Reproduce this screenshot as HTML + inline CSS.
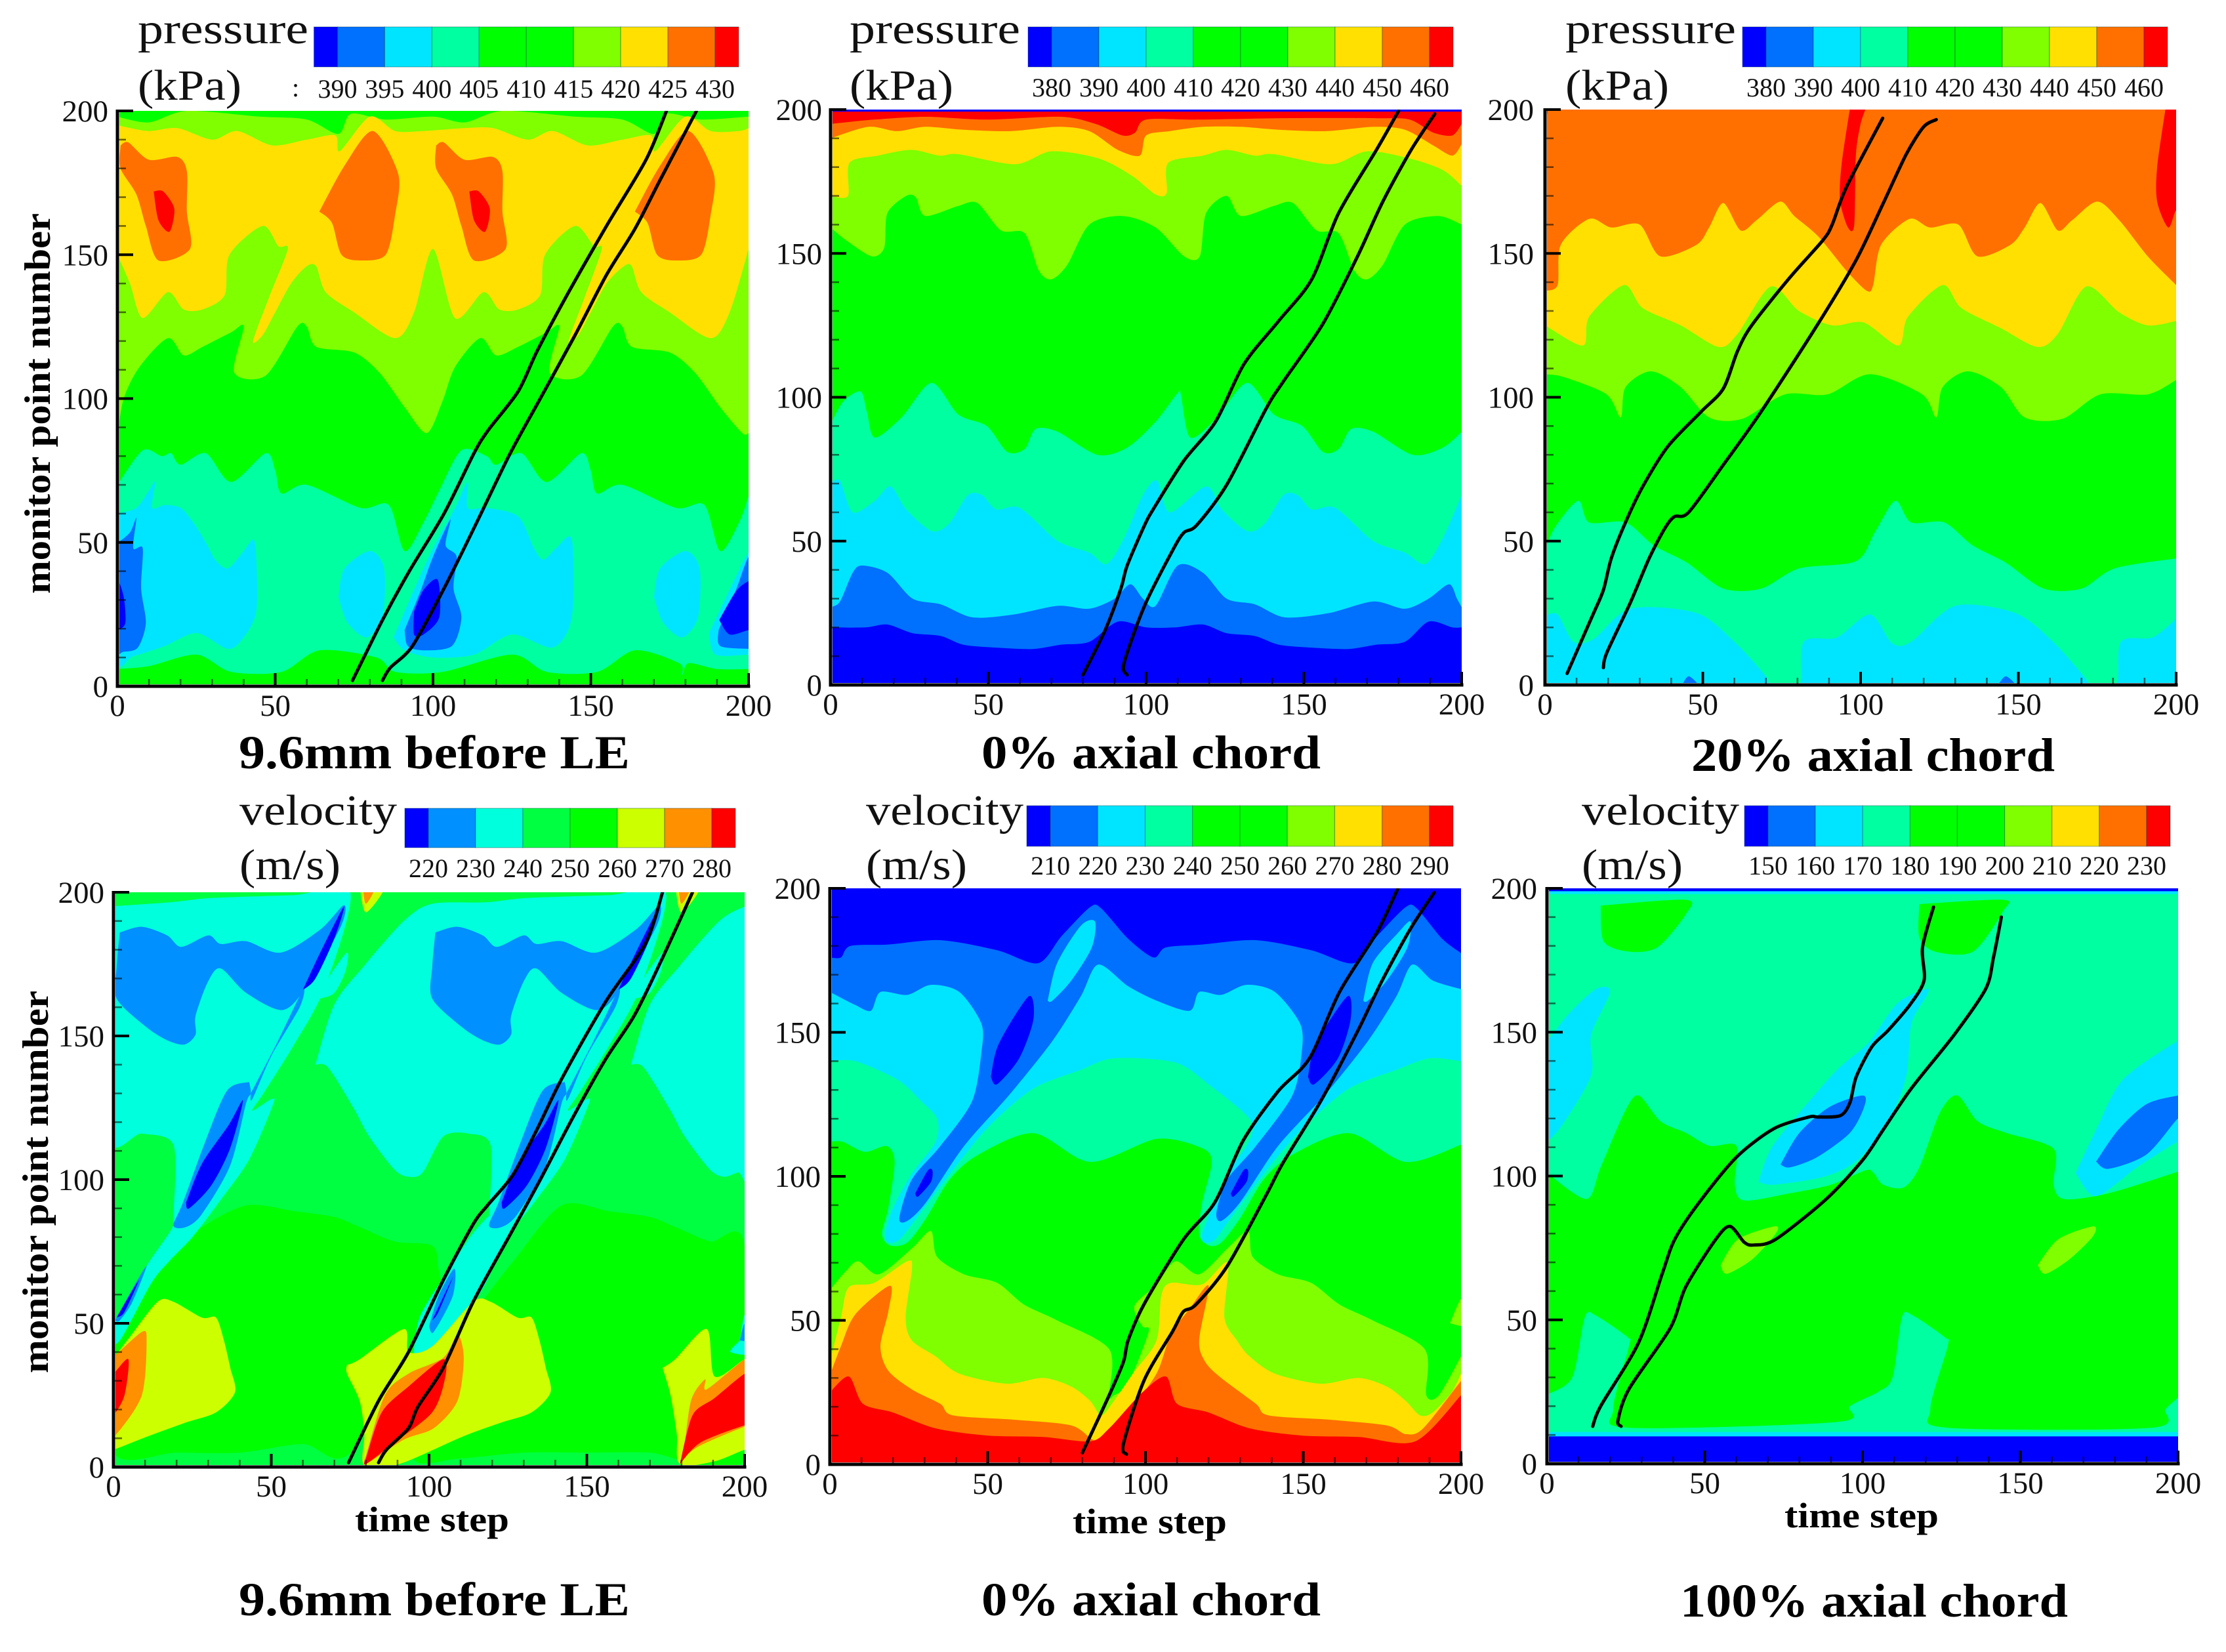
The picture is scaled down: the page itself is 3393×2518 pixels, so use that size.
<!DOCTYPE html>
<html lang="en">
<head>
<meta charset="utf-8">
<title>Pressure and velocity contour panels</title>
<style>
html,body{margin:0;padding:0;background:#fff;}
svg{display:block;}
text{font-family:"Liberation Serif",serif;fill:#111;}
.tick{font-size:47px;}
.cb{font-size:40px;}
.unit{font-size:66px;}
.title{font-size:72px;font-weight:bold;fill:#000;}
.xt{font-size:54px;font-weight:bold;fill:#000;}
.yt{font-size:56px;font-weight:bold;fill:#000;}
</style>
</head>
<body>
<svg id="chart" xmlns="http://www.w3.org/2000/svg" width="3393" height="2518" viewBox="0 0 3393 2518">
<rect x="0" y="0" width="3393" height="2518" fill="#fff"/>
<g id="p1"></g>
<g id="p2"></g>
<g id="p3"></g>
<g id="p4"></g>
<g id="p5"></g>
<g id="p6"></g>

<text class="unit" x="210" y="66" textLength="260" lengthAdjust="spacingAndGlyphs">pressure</text>
<text class="unit" x="210" y="152" textLength="158" lengthAdjust="spacingAndGlyphs">(kPa)</text>
<text class="cb" x="445" y="147">:</text>
<text class="unit" x="1295" y="66" textLength="260" lengthAdjust="spacingAndGlyphs">pressure</text>
<text class="unit" x="1295" y="152" textLength="158" lengthAdjust="spacingAndGlyphs">(kPa)</text>
<text class="unit" x="2386" y="66" textLength="260" lengthAdjust="spacingAndGlyphs">pressure</text>
<text class="unit" x="2386" y="152" textLength="158" lengthAdjust="spacingAndGlyphs">(kPa)</text>
<text class="unit" x="365" y="1257" textLength="240" lengthAdjust="spacingAndGlyphs">velocity</text>
<text class="unit" x="365" y="1340" textLength="154" lengthAdjust="spacingAndGlyphs">(m/s)</text>
<text class="unit" x="1320" y="1257" textLength="240" lengthAdjust="spacingAndGlyphs">velocity</text>
<text class="unit" x="1320" y="1340" textLength="154" lengthAdjust="spacingAndGlyphs">(m/s)</text>
<text class="unit" x="2411" y="1257" textLength="240" lengthAdjust="spacingAndGlyphs">velocity</text>
<text class="unit" x="2411" y="1340" textLength="154" lengthAdjust="spacingAndGlyphs">(m/s)</text>

<text class="title" x="364" y="1171" textLength="596" lengthAdjust="spacingAndGlyphs">9.6mm before LE</text>
<text class="title" x="1496" y="1171" textLength="517" lengthAdjust="spacingAndGlyphs">0% axial chord</text>
<text class="title" x="2578" y="1175" textLength="554" lengthAdjust="spacingAndGlyphs">20% axial chord</text>
<text class="title" x="364" y="2462" textLength="596" lengthAdjust="spacingAndGlyphs">9.6mm before LE</text>
<text class="title" x="1496" y="2462" textLength="517" lengthAdjust="spacingAndGlyphs">0% axial chord</text>
<text class="title" x="2561" y="2464" textLength="591" lengthAdjust="spacingAndGlyphs">100% axial chord</text>

<text class="xt" x="541" y="2334" textLength="235" lengthAdjust="spacingAndGlyphs">time step</text>
<text class="xt" x="1635" y="2337" textLength="235" lengthAdjust="spacingAndGlyphs">time step</text>
<text class="xt" x="2720" y="2328" textLength="235" lengthAdjust="spacingAndGlyphs">time step</text>

<text class="yt" transform="translate(76 905) rotate(-90)" textLength="580" lengthAdjust="spacingAndGlyphs">monitor point number</text>
<text class="yt" transform="translate(73 2093) rotate(-90)" textLength="583" lengthAdjust="spacingAndGlyphs">monitor point number</text>
</svg>

<script>
// ---------- shared axes data ----------
const majorTicks = [0,50,100,150,200];
const minorTicks = [10,20,30,40,60,70,80,90,110,120,130,140,160,170,180,190];

// ---------- colorbar data ----------
const pressureColors = ['#0000ff','#0070ff','#00e5ff','#00ffa0','#00ff00','#00ff00','#7fff00','#ffe000','#ff7000','#ff0000'];
const velocity1Colors = ['#0000ff','#0090ff','#00ffdc','#00ff40','#00ff00','#ccff00','#ff9000','#ff0000'];
const p1BarLabels = ['390','395','400','405','410','415','420','425','430'];
const p2BarLabels = ['380','390','400','410','420','430','440','450','460'];
const p3BarLabels = ['380','390','400','410','420','430','440','450','460'];
const p4BarLabels = ['220','230','240','250','260','270','280'];
const p5BarLabels = ['210','220','230','240','250','260','270','280','290'];
const p6BarLabels = ['150','160','170','180','190','200','210','220','230'];

// ---------- panel 1: pressure, 9.6mm before LE ----------
const p1SpringTop = [[0,70],[8,82],[14,80],[17,81],[20,77],[28,81],[36,71],[47,81],[50,75],[52,67],[60,70],[77,62],[86,63],[91,47],[97,57],[102,68],[109,82],[117,80],[120,77],[128,81],[136,71],[147,81],[150,75],[152,67],[160,70],[177,62],[186,63],[191,47],[197,57],[200,66]];
const p1SpringBottom = [[0,6],[10,7],[25,11],[36,5],[52,5],[64,12.5],[82,10],[88,5],[103,5],[125,11],[136,5],[152,5],[164,12.5],[178,8],[179,4],[181,8],[190,6],[200,6]];
const p1CyanA = [[0,60],[6,62],[10,68],[12,71],[11,62],[15,63],[20,62],[24,57],[28,50],[31,44],[35,41],[40,47],[43,51],[44,45],[44,26],[40,17],[35,13],[25,18.5],[15,14],[5,10.5],[0,10]];
const p1CyanB = [[70,31],[72,41],[80,47],[84.5,41],[84,24],[79,17],[73,22]];
const p1CyanC = [[87.5,17],[94,33.5],[100,48],[107,62],[111,71],[111,62],[117,62],[127,59],[132,48],[135,44],[139,48],[144,51],[144,24],[138,13.5],[125,18],[113,11],[100,10],[91,12.5]];
const p1CyanD = [[170,31],[172,41],[180,47],[184.5,41],[184,24],[179,17],[173,22]];
const p1CyanE = [[187.5,18.5],[194,33.5],[200,46.5],[203,46],[203,11],[200,11],[189.5,11]];
const p1MidA = [[-3,50],[0,50],[4,53.5],[6,58.5],[5,48],[8,48],[7.5,34],[9,22],[6.5,13.5],[2,12],[-3,12.5]];
const p1MidB = [[91,19.5],[96,33],[100,45],[105.5,58],[104,49],[107.5,45],[106.5,34],[109,24],[106,14],[97,12.5],[92,14]];
const p1MidC = [[190.5,19.5],[196,33.5],[200,45],[203,45],[203,13],[200,13],[191,14]];
const p1BlueA = [[-3,37],[0,37],[2,31],[2.5,22],[0,19.5],[-3,19.5]];
const p1BlueB = [[94,26],[97,33.5],[101.5,37],[102,24],[97,18],[94,18]];
const p1BlueC = [[190.7,23],[196,33],[200,36.5],[203,36.5],[203,19.5],[200,19.5],[194,18]];
const p1LimeBottom = [[0,87],[2,100],[7,111],[16,121],[21,115],[27,118],[36,123],[40,125],[37,109],[47,108],[57,125],[60,125],[63,118],[75,116],[83,109],[91,97],[98,88],[103,99],[107,111],[115,121],[120,115],[127,118],[136,123],[140,125],[137,109],[147,108],[157,125],[160,125],[163,118],[175,116],[183,109],[191,97],[198,88],[200,88]];
const p1LimeTop = [[0,198],[10,196],[22,200],[45,198],[60,197],[70,192],[74,199],[85,197],[100,198],[110,196],[122,200],[145,198],[160,197],[170,192],[174,199],[185,197],[200,198]];
const p1YellowTop = [[0,195],[9.7,193],[19,194],[30,190],[38,193],[49,188],[60,190],[69,191.5],[70.5,186],[80,198],[88,193],[97,193],[110,194],[119,194],[130,190],[138,193],[149,188],[160,190],[169,191.5],[170.5,186],[180,198],[188,193],[197,193],[200,194]];
const p1YellowBottom = [[0,150],[4,140],[8,128],[16,137],[21,131],[27,131],[34,136],[35.5,150],[46,160],[51,153],[54,152],[48,135],[43,120],[46,122],[50,130],[55,140],[60,146],[63,146],[66,137],[75,130],[88,121],[94,130],[100,152],[107,128],[116,137],[121,131],[127,131],[134,136],[135.5,150],[145,160],[151,153],[153.5,152],[148,135],[143,120],[146,122],[150,130],[155,140],[160.5,146],[163,146],[166,137],[175,130],[188,121],[194,130],[200,152]];
const p1OrangeA = [[1,188],[3.5,189],[10,183],[19,184],[22,179],[22,165],[23,152],[13,148],[9,160],[6,171],[1,180]];
const p1OrangeB = [[64,165],[72,181],[81,193],[89,178],[88,164],[85,150],[77,148],[71,150],[68,161]];
const p1OrangeC = [[101,188],[103.5,189],[110,183],[119,184],[122,179],[122,165],[123,152],[113,148],[109,160],[106,171],[101,180]];
const p1OrangeD = [[164,165],[172,181],[181,193],[189,178],[188,164],[185,150],[177,148],[171,150],[168,161]];
const p1RedA = [[11.5,172],[14.5,172],[18,166],[16.5,158],[13,162]];
const p1RedB = [[111.5,172],[114.5,172],[118,166],[116.5,158],[113,162]];
const p1LineA = [[74.5,2],[84,23],[92.5,40],[103.5,60],[113,81],[117.5,89],[127,102.5],[133,116.5],[142.5,136],[155,160],[167.5,183],[174,200]];
const p1LineB = [[84,2],[86.5,6.5],[93.5,14],[103.5,34],[113,55],[124.5,81],[134,100],[145,122],[155,143],[164,159],[172,176],[183.5,200]];

// ---------- panel 2: pressure, 0% axial chord ----------
const p2DarkTop = [[0,27],[3,29],[7,39],[10,41.5],[18,39],[26,30],[35,28],[45,23.5],[58,24.5],[72,27.5],[82,26.5],[90,30],[95,35],[99,30],[103,27.5],[110,41.5],[118,39],[125.5,30],[134.5,28],[144,23.5],[158,25],[172,29],[182,26.5],[189.5,30],[196,35],[198.5,30],[200,27]];
const p2BlueTop = [[0,20],[11,20],[18,21],[26,18],[35,17],[42,14],[52,13],[64,12.5],[73,14],[82,15],[91,22],[100,20],[109,20],[118,21],[125.5,18],[134.5,17],[142,14],[152,13],[164,12.5],[173,14],[182,15],[189.5,22],[197,20],[200,20]];
const p2CyanTop = [[0,70],[3,71],[7,60],[14,64],[19,69],[24,61],[32,53.5],[37.5,56],[43.5,66],[48,66],[52.5,61],[60,61.5],[72,50],[82,46],[87.5,42],[93,51],[99,66],[103.5,71],[107.5,60],[119,69],[124,61],[132,53.5],[137.5,56],[143.5,66],[148,66],[152.5,61],[160,61.5],[172,50],[182,46],[188.5,42],[194,51],[200,66]];
const p2SpringTop = [[0,90.5],[4,98.5],[9.5,102],[11.5,95],[14,86],[22.5,93],[32,105],[40.5,94],[49.5,90],[56,81],[61.5,82],[65,89],[72,88],[84.5,80],[94,82.5],[103,91.5],[110,101.5],[111,101],[114,86],[122.5,93],[132,105],[140.5,94],[149.5,90],[156,81],[161,82],[165,89],[172,88],[184.5,80],[194,82.5],[200,88]];
const p2GreenTop = [[0,159],[5,154.5],[13,149],[17,152],[18,164],[24,170],[27,169.5],[30,163],[40.5,166.5],[46.5,167.5],[54,158],[61.5,157],[66,144],[70,141],[75,146],[82,160],[92.5,163],[103,159],[112,149],[117,149],[119,164],[125.5,170],[130,163],[140.5,166.5],[146.5,167.5],[154,158],[161,157],[166,144],[170,141],[175,146],[182,160],[192.5,163],[200,160]];
const p2LimeTop = [[0,170],[5.5,170],[6,181.5],[15,184],[25.5,186],[34.5,184],[40.5,184.5],[58.5,181],[70,185.5],[85,183],[95.5,177],[103,170.5],[106.5,171],[107,181.5],[118,184],[125.5,186],[134.5,184],[140.5,184.5],[158.5,181],[170,185.5],[183.5,183],[194,179],[200,173.5]];
const p2YellowTop = [[0,190],[12,194],[21,192.5],[30,194],[42,193],[57,192.5],[72,194],[82,192.5],[91,186],[98,184],[100,191],[107.5,192.5],[118,194],[130,194],[142,193],[157,192.5],[172,194],[182,193],[191,187.5],[197,184],[200,188]];
const p2OrangeTop = [[0,195],[13.7,196.5],[30,197.5],[49.5,196.5],[73,197.5],[84,195],[92.5,191],[96.5,192],[100,196.5],[116.5,196.5],[142,197],[173,197],[183.5,196.5],[191,192],[197,191],[200,195]];
const p2RedTop = [[0,199.3],[100,199.3],[200,199.3]];
const p2LineA = [[80,3.5],[87,19],[92,33.5],[94,41.5],[99.5,55.5],[102.5,61.5],[112,78],[122,91.5],[131,111.5],[142,126.5],[152.5,141],[161,164],[173,186],[180,199.5]];
const p2LineB = [[94,3.5],[93,7.5],[99.5,27.5],[108.5,47],[112,53],[116,55.5],[125.5,69.5],[138,96],[143.5,105.5],[156,125.5],[167,149],[175,168],[184,186],[191.5,198.5]];

// ---------- panel 3: pressure, 20% axial chord ----------
const p3SpringTop = [[0,24],[4,24.5],[9,15],[15.5,16],[27,26.5],[48,25],[60,15],[70,3],[71.5,-1],[80.5,-1],[82,15],[92.5,16.5],[103,24.5],[110,14.5],[116,15],[130,27.5],[149,25],[161,15],[171.5,2],[173,-1],[181,-1],[182.5,15],[192.5,16.5],[200,23]];
const p3GreenTop = [[0,46.5],[3,54.5],[10.5,64],[14,56.5],[25.5,56.5],[34.5,48.5],[45,42.5],[56.5,33.5],[68.5,33.5],[80.5,40.5],[98.5,43],[104.5,53],[111,64],[116,56.5],[126.5,56.5],[135.5,48.5],[146,42.5],[158,33.5],[170,33.5],[180.5,40.5],[200,44]];
const p3LimeTop = [[0,108],[6,107],[19.5,101],[24,93],[25.5,103.5],[33.5,109],[43,103.5],[52,93],[62.5,92.5],[76,101],[89.5,101],[103,108],[119.5,101],[124,93],[126,103.5],[134,109],[144.5,103.5],[152,93],[164,92.5],[176,101],[191,101],[200,106]];
const p3YellowTop = [[0,125],[12,118],[14,128],[25,139],[31,131],[43,125],[55,117.5],[61,122],[71.5,138.5],[80.5,130],[91,125],[101,126],[112,118],[115,128],[126,139],[132,131],[144.5,124],[156,117.5],[162.5,122],[171.5,138.5],[182,129.5],[191,125],[200,126.5]];
const p3OrangeTop = [[0,137],[4,139],[5,153],[14,162],[21,159],[30,160],[36.5,149],[48,153],[52,159],[56.5,167.5],[62,158],[67,161.5],[74.5,168],[79,163],[86.5,156],[95.5,144],[102,137],[104,139],[106.5,153],[115.5,162],[122,159],[131,160],[137,149],[147.5,153],[152,159],[157,167.5],[162.5,158],[167,161.5],[175,168],[182,161.5],[191,149],[200,139]];
const p3RedA = [[97,203],[102,203],[100,195],[98.5,184],[98,160],[96,159],[93.5,168.5],[94,181]];
const p3RedB = [[197,203],[203,203],[203,165],[200,165],[197.5,159],[194,168],[194,180]];
const p3RedC = [[0,201],[1,201],[0,195]];
const p3MidA = [[43,-1],[45.5,3],[49,-1]];
const p3MidB = [[143,-1],[146,3],[149.5,-1]];
const p3LineA = [[7,4],[15,24],[18.5,33],[21,44],[25.5,56.5],[31,69],[39,83],[49.5,95],[56.5,103],[61,116],[65.5,125],[77.5,141.5],[88,154.5],[91,160],[95.5,173],[107,197]];
const p3LineB = [[18.5,6],[19.5,11],[27,28.5],[33,44],[38,54.5],[41,58.5],[45.5,60],[56.5,76.5],[68.5,95],[86.5,125.5],[98.5,147.5],[107,167],[114.5,184.5],[120,194],[124,196.5]];

// ---------- panel 4: velocity, 9.6mm before LE ----------
const p4GreenA = [[0,45],[8,60],[14,70],[26,82],[42,91],[57.5,89],[70,87],[78,83.5],[89,78.5],[101,77],[103,69],[104,60],[100,50],[75,5],[60,8],[40,5],[20,5],[0,5]];
const p4GreenB = [[115,55],[127,72],[142,91],[157,89],[170,87],[178,83.5],[189,78.5],[200,77],[200,3],[170,5],[150,5],[130,5],[110,3],[95,3],[100,30]];
const p4AquaA = [[-2,195],[18,196.5],[31,198],[57,199],[75,200],[67,167],[57.5,147.5],[47.5,130],[44,124],[50,128],[50.5,126],[43,107],[34,93],[25,80],[18,72],[12,64],[2,44],[-2,44],[0,50],[10.5,70],[18.5,83],[19,88],[19,112],[9,116],[-2,116]];
const p4AquaB = [[64,140],[70,161],[79.5,174.5],[92,190],[101,196],[118,196.5],[131,198],[157,199],[175,200],[167,167],[157.5,147.5],[147.5,130],[144,124],[150,128],[150.5,126],[143,107],[134,93],[125,80],[118,64],[112,54],[104,44],[95,38],[95,39],[97,52],[104,65],[113,80],[118.5,87],[119,88],[119.5,112],[112.5,116],[104.5,115],[98,102.5],[93.5,101],[89,103.5],[81,115],[76,125],[68,139]];
const p4AquaC = [[164,140],[170,161],[179.5,174.5],[192,190],[200,195],[203,195],[203,103],[198,102.5],[193.5,101],[189,103.5],[181,115],[176,125],[168,139]];
const p4AquaD = [[198.5,44],[200,53],[203,53],[203,40],[195.5,40]];
const p4LensA = [[65.5,163],[68,170],[74,179],[73.5,172.5],[70,165]];
const p4LensB = [[165.5,163],[168,170],[174,179],[173.5,172.5],[170,165]];
const p4MidA = [[2,186],[9,188],[17,185],[21.5,181],[30,185],[34,182],[42,183],[53,179],[65.5,187],[73,195.5],[72,188],[61,167],[53.5,159],[42,165],[34,173.5],[30,169],[26,157],[26,150.5],[22.5,147],[17,148.5],[10.5,153],[1,163],[1,174]];
const p4MidB = [[43,134],[36,131],[29,113],[22,92],[19,84],[23,83.5],[28,88],[37,105],[42,126.5],[43.5,130]];
const p4StripA = [[43.5,130],[52,148],[60,166],[59,160],[50,143],[44,128]];
const p4MidC = [[0.5,51],[6,62],[10.5,70],[6,57.5],[2,51]];
const p4MidD = [[102,186],[109,188],[117,185],[121.5,181],[130,185],[134,182],[142,183],[153,179],[165.5,187],[173,195.5],[172,188],[161,167],[153.5,159],[142,165],[134,173.5],[130,169],[126,157],[126,150.5],[122.5,147],[117,148.5],[110.5,153],[101,163],[101,174]];
const p4MidE = [[143,134],[136,131],[129,113],[122,92],[119,84],[123,83.5],[128,88],[137,105],[142,126.5],[143.5,130]];
const p4StripB = [[143.5,130],[152,148],[160,166],[159,160],[150,143],[144,128]];
const p4MidF = [[100,49],[103,59.5],[108,69],[107.5,59.5],[101.5,47]];
const p4MidG = [[198.5,44],[200,50],[203,50],[203,44]];
const p4BlueA = [[60,166],[65.5,179],[73,195],[70,184],[64,170]];
const p4BlueB = [[23,92],[28,105.5],[36.5,119],[41,127.5],[37,111],[31,98],[24,90]];
const p4BlueC = [[1,52],[8,65],[3.5,54]];
const p4BlueD = [[160,166],[165.5,179],[173,195],[170,184],[164,170]];
const p4BlueE = [[123,92],[128,105.5],[136.5,119],[141,127.5],[137,111],[131,98],[124,90]];
const p4BlueF = [[101,51],[107.5,66],[103,54]];
const p4HighA = [[-2,38],[0,38],[5,45],[14,57.5],[19,57.5],[28,52],[32.5,52],[35,44],[37,34.5],[38.5,26],[32.5,19],[23,15.5],[10.5,10.5],[0,6],[-2,6]];
const p4HighB = [[74,35.5],[78,37.5],[92,48],[93.5,40],[101,42],[114,57.5],[119.5,57.5],[128,52],[132.5,52],[135,44],[137,34.5],[138.5,26],[132.5,19],[123,15.5],[110.5,10.5],[90.5,1],[79.5,0.5],[79.5,11.5],[78,23],[74,32.5]];
const p4HighC = [[174,34.5],[178,37.5],[188,48],[190.5,31.5],[200,37.5],[203,37.5],[203,6],[200,6],[190.5,2],[179.5,1],[178.5,11.5],[176.5,25]];
const p4OrangeA = [[-2,38.5],[0,38.5],[9,47],[10.5,44],[9,25],[1,11.5],[-2,10.5]];
const p4OrangeB = [[80,4],[86,25],[93.5,32.5],[104.5,38],[109,46],[111,38],[109,23],[101.5,13.5],[92,9.5],[80,1]];
const p4OrangeC = [[180.5,3],[183,23],[187.5,30.5],[188,27],[200,37.5],[203,37.5],[203,14],[200,14],[186,7.5]];
const p4RedA = [[-2,32.5],[0,32.5],[4.7,37.5],[3.5,25],[0,18],[-2,18]];
const p4RedB = [[80,3],[85,19],[93.5,28],[104.5,37.5],[105,30.5],[101,19],[89,8.5],[80,1]];
const p4RedC = [[179.5,1],[183.5,18],[190.5,24],[200,32.5],[203,32.5],[203,14.5],[200,14.5],[186,8.5]];
const p4TipHighA = [[78,202],[86,202],[80,193]];
const p4TipOrangeA = [[79,202],[83,202],[80,196]];
const p4TipHighB = [[178,202],[186,202],[180,193]];
const p4TipOrangeB = [[179,202],[183,202],[180,196]];
const p4LineA = [[74.5,1.5],[84,23],[93.5,40],[104.5,65],[114,84.5],[118.5,91],[126.5,101.5],[134,117],[142,135],[156,162],[168.5,182],[174,200]];
const p4LineB = [[84,1.5],[86.5,6],[93.5,13.5],[96.5,21],[104.5,34.5],[114,57.5],[125.5,80.5],[135,99.5],[146,122.5],[156,142],[165,157],[173.5,176],[183.5,200]];

// ---------- panel 5: velocity, 0% axial chord ----------
const p5SpringTop = [[0,112],[4,112],[11,108.5],[18,110.5],[20.5,105],[18.5,89],[16.5,80],[19,76],[24.5,77],[30.5,85.5],[38,99],[47,107.5],[64.5,115],[82.5,105],[103.5,113],[117.5,110],[121,105],[118,91],[117,80],[120,76],[124,77],[130,85.5],[137.5,99],[146.5,107.5],[164.5,115],[182.5,105],[200,111]];
const p5CyanTop = [[0,140],[8,140],[21.5,133.5],[29,126],[34,120],[33.5,112],[26,101],[20,89],[17.5,80],[18.5,77],[22,78],[27.5,85.5],[41,105],[51,118],[64.5,130.5],[79.5,137],[90,141],[109.5,139.5],[120.5,131.5],[133,120],[133,112.5],[126,101],[120.5,87.5],[118,80],[118.5,77],[122,78],[127,85.5],[140.5,105],[151,118],[164.5,130.5],[179.5,137],[190,141],[200,140]];
const p5DarkTop = [[0,164],[8,159.5],[13,157.5],[16,164],[24.5,163],[32,166.5],[41,164],[48,153],[48,143],[45,126],[35,110.5],[26,99],[22,85.5],[24.5,84.5],[30.5,91],[42.5,110.5],[57,128.5],[70.5,147],[79.5,162.5],[85,173.5],[94.5,166],[103.5,161],[114,157.5],[117,164],[124,163],[132,166.5],[141,164],[149,153],[149.5,143],[146.5,128],[135,110.5],[126,99],[122.5,87.5],[124,84.5],[130,91],[142,110.5],[157,128.5],[170.5,147],[179.5,162.5],[184.5,173.5],[191,168],[200,165]];
const p5BlueTop = [[0,176],[3.5,176],[6.5,180],[18.5,180.5],[35,182],[53,178.5],[66,174],[73.5,183.5],[82.5,193.5],[86,193],[94.5,182.5],[102.5,176],[106.5,179.5],[118,180.5],[135,182],[152.5,178.5],[166,174],[173.5,183.5],[182.5,193.5],[186,193],[194,182.5],[200,177.5]];
const p5LensA = [[69,161],[72,174],[79.5,187],[84,188.5],[83,179.5],[76.5,168],[70.5,161]];
const p5LensB = [[169,161],[172,174],[180,184.5],[184,188.5],[183,179.5],[176.5,168],[170.5,161]];
const p5DeepA = [[51,134.5],[53.5,146],[63,162.5],[64.5,154.5],[60,141],[53,132]];
const p5DeepB = [[151.5,134.5],[154,146],[164,162.5],[165,154.5],[161,141],[153.5,132]];
const p5DeepC = [[27,94],[31,102],[32.5,102],[32,98],[28,93]];
const p5DeepD = [[127,94],[131,102],[132.5,102],[132,98],[128,93]];
const p5LimeTop = [[0,60.5],[5,67],[9,70.5],[15.5,66],[26,75],[32,81],[34,72],[42.5,66],[53,63],[61.5,55.5],[72,50],[88.5,40],[88.5,24],[90,24],[94.5,28],[101,46],[99,48],[96.5,55],[103.5,62.5],[109.5,70.5],[117,66],[126,75],[132.5,81],[134,72],[142,66],[152.5,63],[161.5,55.5],[172,50],[188.5,40],[189,24],[193,24],[200,37.5]];
const p5LimeSpot = [[196.5,49],[200,57.5],[203,57.5],[203,48],[200,48]];
const p5YellowTop = [[0,35.5],[3.5,51],[6,61.5],[14,63],[24.5,70.5],[26,68],[24,51],[26,43],[33.5,37.5],[41,31.5],[56,28],[67.5,30],[76.5,27],[82.5,22],[86,17],[90,22],[96,31.5],[103.5,43],[105,58.5],[108,63],[118,62.5],[126,70],[125,51],[129,43],[133,37.5],[141,31.5],[155.5,28],[167.5,30],[176.5,27],[182.5,22],[187,17],[191,18],[197,25],[200,31.5]];
const p5OrangeTop = [[0,31],[3.5,41],[8,52],[19,62],[18.5,53],[16,41],[18.5,32.5],[26,26],[35,21],[39,17],[58.5,15.5],[76.5,13.5],[83.5,8.5],[88.5,9.5],[94.5,18],[103.5,31.5],[108,45],[114,54],[120,62],[117,43],[119,35.5],[124,30],[135,21],[139,17],[158.5,15.5],[176.5,13.5],[182.5,10.5],[188,12.5],[200,29]];
const p5RedTop = [[0,25],[6,30.5],[10.5,21],[20,18],[33.5,12.5],[50,10],[67.5,9.5],[82.5,8],[88.5,12.5],[99,25],[106.5,30.5],[110,21],[120,18],[133,12.5],[149.5,10],[167.5,9.5],[185.5,8],[200,24]];
const p5LineA = [[80,4],[88.5,24],[93,35.5],[94.5,43],[99.5,55.5],[112,78],[122,91],[131,112.5],[142,129.5],[152,141],[161.5,164],[173.5,185],[180,200]];
const p5LineB = [[94,3.5],[93,7],[99.5,29],[108.5,46],[112,53],[116,55.5],[126,69],[138.5,94],[143.5,104.5],[156,127],[167.5,151],[175,168],[184,186],[191.5,198.5]];

// ---------- panel 6: velocity, 100% axial chord ----------
const p6GreenUpper = [[0,101],[12.5,92],[17,103],[24.5,122],[29,128],[36,119],[44,115],[51.5,110.5],[60,110.5],[59.5,97],[62.5,91.5],[77,94],[90,97],[101,102],[103.5,101],[106.5,97],[113,96],[118,103],[124.5,122],[130,128],[136.5,119],[145.5,115],[160.5,109.5],[160.5,97],[164,92],[178,94],[200,101.5]];
const p6GreenLower = [[0,24],[8,30],[12,51],[15.5,51.5],[25.5,44],[26,41],[21,19],[26,12.5],[92,14.5],[96,20],[105,25],[109.5,30],[112.5,51],[116,51.5],[126,44],[127,41],[121.5,19],[127,12.5],[191.5,12.5],[196,19],[200,23]];
const p6TopA = [[17,194],[44,196],[44,191],[35,179.5],[26,178],[18,181.5]];
const p6TopB = [[118,194.5],[144.5,196],[144.5,192],[135,178],[123,178],[118,183]];
const p6CyanA = [[-3,112],[0,112],[5,118],[14,135],[14,149],[20,164],[15.5,165],[7,156.5],[0,147],[-3,147]];
const p6CyanB = [[67,98],[71,109.5],[80,122],[92,137],[102,146.5],[111,160],[120,165],[120.5,163],[115.5,153],[114,135.5],[109.5,122],[99.5,106.5],[88.5,100],[72,97]];
const p6CyanC = [[167.5,101],[174,116],[182.5,133.5],[200,147],[203,147],[203,112],[200,112],[187,103],[174,93]];
const p6DarkA = [[74,104],[80,115],[89.5,124],[100,128],[100.5,124],[96,115],[85.5,106.5],[77,103]];
const p6DarkB = [[174,105],[181,116],[190,125],[200,128],[203,128],[203,120],[200,120],[190,107.5],[178,102.5]];
const p6LimeA = [[55,69],[60.5,78],[72,82.5],[72.5,80],[65,71],[57,66]];
const p6LimeB = [[155.5,69],[162,78],[173,82.5],[173,79],[165.5,71],[158,66]];
const p6LineA = [[14.5,13],[17,20],[29,42],[36.5,66],[40.5,78],[48,90.5],[60,106.5],[72,116.5],[83,120.5],[86,120.5],[93,121],[96,125.5],[98,134.5],[103,145],[108,150.5],[115,159.5],[119.5,168],[119,179.5],[122.5,193.5]];
const p6LineB = [[23.5,13],[22.5,15],[26,26],[39,47],[44,61.5],[53.5,78],[58,82.5],[62.5,77],[65.5,76],[72.5,78],[88.5,92],[100,105.5],[106.5,116],[115.5,130.5],[129,149],[139,165],[141.5,176],[144,190]];

// ---------- rendering helpers ----------
const NS = 'http://www.w3.org/2000/svg';
const C = {blue:'#0000ff',dark:'#0070ff',cyan:'#00e5ff',spring:'#00ffa0',green:'#00ff00',lime:'#7fff00',yellow:'#ffe000',orange:'#ff7000',red:'#ff0000',
           vMid:'#0090ff',vAqua:'#00ffdc',vLight:'#00ff40',vHigh:'#ccff00',vOrange:'#ff9000'};

function makeAxes(x0,x1,y0,y1){
  return {x0,x1,y0,y1,
    sx:t=>x0+(x1-x0)*t/200,
    sy:v=>y0+(y1-y0)*v/200};
}
function smooth(pts,ax,move){
  let d = (move?'M':'L')+ax.sx(pts[0][0]).toFixed(1)+' '+ax.sy(pts[0][1]).toFixed(1);
  for(let i=0;i<pts.length-1;i++){
    const a=pts[Math.max(i-1,0)],b=pts[i],c=pts[i+1],e=pts[Math.min(i+2,pts.length-1)];
    const c1x=ax.sx(b[0])+(ax.sx(c[0])-ax.sx(a[0]))/7, c1y=ax.sy(b[1])+(ax.sy(c[1])-ax.sy(a[1]))/7;
    const c2x=ax.sx(c[0])-(ax.sx(e[0])-ax.sx(b[0]))/7, c2y=ax.sy(c[1])-(ax.sy(e[1])-ax.sy(b[1]))/7;
    d+=' C'+c1x.toFixed(1)+' '+c1y.toFixed(1)+' '+c2x.toFixed(1)+' '+c2y.toFixed(1)+' '+ax.sx(c[0]).toFixed(1)+' '+ax.sy(c[1]).toFixed(1);
  }
  return d;
}
function addPath(g,d,fill,name){
  const el=document.createElementNS(NS,'path');
  el.setAttribute('d',d);
  el.setAttribute('fill',fill);
  
  
  g.appendChild(el);
}
function fillAbove(g,ax,curve,fill,name){
  const d=smooth(curve,ax,true)+' L'+ax.sx(curve[curve.length-1][0])+' '+ax.sy(203)+' L'+ax.sx(curve[0][0])+' '+ax.sy(203)+' Z';
  addPath(g,d,fill,name);
}
function fillBelow(g,ax,curve,fill,name){
  const d=smooth(curve,ax,true)+' L'+ax.sx(curve[curve.length-1][0])+' '+ax.sy(-3)+' L'+ax.sx(curve[0][0])+' '+ax.sy(-3)+' Z';
  addPath(g,d,fill,name);
}
function band(g,ax,upper,lower,fill,name){
  const d=smooth(upper,ax,true)+' '+smooth(lower.slice().reverse(),ax,false)+' Z';
  addPath(g,d,fill,name);
}
function blob(g,ax,pts,fill,name){
  const ring=pts.concat([pts[0]]);
  addPath(g,smooth(ring,ax,true)+' Z',fill,name);
}
function strip(g,ax,a,b,fill,name){
  const el=document.createElementNS(NS,'rect');
  el.setAttribute('x',ax.x0);
  el.setAttribute('width',ax.x1-ax.x0);
  el.setAttribute('y',ax.sy(b));
  el.setAttribute('height',ax.sy(a)-ax.sy(b));
  el.setAttribute('fill',fill);
  
  
  g.appendChild(el);
}
function trackLine(g,ax,pts,name){
  const el=document.createElementNS(NS,'path');
  el.setAttribute('d',smooth(pts,ax,true));
  el.setAttribute('fill','none');
  el.setAttribute('stroke','#000');
  el.setAttribute('stroke-width','5');
  el.setAttribute('stroke-linecap','round');
  
  
  g.appendChild(el);
}
function seg(g,x1,y1,x2,y2,w,color,name){
  const el=document.createElementNS(NS,'line');
  el.setAttribute('x1',x1);el.setAttribute('y1',y1);el.setAttribute('x2',x2);el.setAttribute('y2',y2);
  el.setAttribute('stroke',color);el.setAttribute('stroke-width',w);
  
  
  g.appendChild(el);
}
function label(g,x,y,str,anchor,cls,name){
  const el=document.createElementNS(NS,'text');
  el.setAttribute('x',x);el.setAttribute('y',y);
  el.setAttribute('text-anchor',anchor);
  el.setAttribute('class',cls);
  el.textContent=str;
  
  
  g.appendChild(el);
}
function plotGroup(id,ax){
  const root=document.getElementById(id);
  const cp=document.createElementNS(NS,'clipPath');
  cp.setAttribute('id','clip-'+id);
  const r=document.createElementNS(NS,'rect');
  r.setAttribute('x',ax.x0+3);r.setAttribute('y',ax.y1);
  r.setAttribute('width',ax.x1-ax.x0-3);r.setAttribute('height',ax.y0-ax.y1-3);
  cp.appendChild(r);
  root.appendChild(cp);
  const g=document.createElementNS(NS,'g');
  g.setAttribute('clip-path','url(#clip-'+id+')');
  
  
  root.appendChild(g);
  return g;
}
function drawAxes(id,ax,labelGapY){
  const g=document.getElementById(id);
  seg(g,ax.x0,ax.y1-2,ax.x0,ax.y0+2.5,5,'#000','y-axis-line');
  seg(g,ax.x0-2.5,ax.y0,ax.x1+2.5,ax.y0,5,'#000','x-axis-line');
  majorTicks.forEach(v=>{
    seg(g,ax.x0,ax.sy(v),ax.x0+24,ax.sy(v),4,'#000','y-major-tick');
    seg(g,ax.sx(v),ax.y0,ax.sx(v),ax.y0-20,4,'#000','x-major-tick');
    label(g,ax.x0-labelGapY,ax.sy(v)+16,String(v),'end','tick','y-tick-label');
    label(g,ax.sx(v),ax.y0+45,String(v),'middle','tick','x-tick-label');
  });
  minorTicks.forEach(v=>{
    seg(g,ax.x0,ax.sy(v),ax.x0+13,ax.sy(v),2.6,'rgba(0,0,0,0.55)','y-minor-tick');
    seg(g,ax.sx(v),ax.y0,ax.sx(v),ax.y0-11,2.6,'rgba(0,0,0,0.55)','x-minor-tick');
  });
}
function colorbar(id,x0,x1,y0,y1,colors,labels,labelY){
  const g=document.getElementById(id);
  const unit=(x1-x0)/(colors.length-1);
  colors.forEach((col,i)=>{
    const left = i===0 ? x0 : x0+unit*(i-0.5);
    const right = i===colors.length-1 ? x1 : x0+unit*(i+0.5);
    const el=document.createElementNS(NS,'rect');
    el.setAttribute('x',left);el.setAttribute('y',y0);
    el.setAttribute('width',right-left);el.setAttribute('height',y1-y0);
    el.setAttribute('fill',col);
    el.setAttribute('stroke','rgba(0,60,60,0.35)');
    el.setAttribute('stroke-width','1.2');
    
    
    g.appendChild(el);
  });
  labels.forEach((t,i)=>{
    label(g,x0+unit*(i+0.5),labelY,t,'middle','cb','colorbar-label');
  });
}

// ---------- panel 1 ----------
const ax1=makeAxes(179,1141,1046,169);
const f1=plotGroup('p1',ax1);
strip(f1,ax1,-2,202,C.green,'green-base');
band(f1,ax1,p1SpringTop,p1SpringBottom,C.spring,'spring-band');
blob(f1,ax1,p1CyanA,C.cyan,'cyan-lobe');
blob(f1,ax1,p1CyanB,C.cyan,'cyan-lobe');
blob(f1,ax1,p1CyanC,C.cyan,'cyan-lobe');
blob(f1,ax1,p1CyanD,C.cyan,'cyan-lobe');
blob(f1,ax1,p1CyanE,C.cyan,'cyan-lobe');
blob(f1,ax1,p1MidA,C.dark,'low-pressure-lobe');
blob(f1,ax1,p1MidB,C.dark,'low-pressure-lobe');
blob(f1,ax1,p1MidC,C.dark,'low-pressure-lobe');
blob(f1,ax1,p1BlueA,C.blue,'lowest-pressure-core');
blob(f1,ax1,p1BlueB,C.blue,'lowest-pressure-core');
blob(f1,ax1,p1BlueC,C.blue,'lowest-pressure-core');
band(f1,ax1,p1LimeTop,p1LimeBottom,C.lime,'lime-band');
band(f1,ax1,p1YellowTop,p1YellowBottom,C.yellow,'yellow-band');
blob(f1,ax1,p1OrangeA,C.orange,'orange-lobe');
blob(f1,ax1,p1OrangeB,C.orange,'orange-lobe');
blob(f1,ax1,p1OrangeC,C.orange,'orange-lobe');
blob(f1,ax1,p1OrangeD,C.orange,'orange-lobe');
blob(f1,ax1,p1RedA,C.red,'red-core');
blob(f1,ax1,p1RedB,C.red,'red-core');
trackLine(f1,ax1,p1LineA,'blade-track-upper');
trackLine(f1,ax1,p1LineB,'blade-track-lower');
drawAxes('p1',ax1,14);
colorbar('p1',478.5,1126,41,102,pressureColors,p1BarLabels,149);

// ---------- panel 2 ----------
const ax2=makeAxes(1266,2228,1044,167);
const f2=plotGroup('p2',ax2);
strip(f2,ax2,-2,202,C.blue,'blue-base');
fillAbove(f2,ax2,p2BlueTop,C.dark,'dark-blue-band');
fillAbove(f2,ax2,p2DarkTop,C.cyan,'cyan-band');
fillAbove(f2,ax2,p2CyanTop,C.spring,'spring-band');
fillAbove(f2,ax2,p2SpringTop,C.green,'green-band');
fillAbove(f2,ax2,p2GreenTop,C.lime,'lime-band');
fillAbove(f2,ax2,p2LimeTop,C.yellow,'yellow-band');
fillAbove(f2,ax2,p2YellowTop,C.orange,'orange-band');
fillAbove(f2,ax2,p2OrangeTop,C.red,'red-band');
fillAbove(f2,ax2,p2RedTop,C.blue,'blue-top-strip');
trackLine(f2,ax2,p2LineA,'blade-track-upper');
trackLine(f2,ax2,p2LineB,'blade-track-lower');
drawAxes('p2',ax2,13);
colorbar('p2',1567,2215,41,102,pressureColors,p2BarLabels,147);

// ---------- panel 3 ----------
const ax3=makeAxes(2355,3317,1044,167);
const f3=plotGroup('p3',ax3);
strip(f3,ax3,-2,202,C.cyan,'cyan-base');
fillAbove(f3,ax3,p3SpringTop,C.spring,'spring-band');
fillAbove(f3,ax3,p3GreenTop,C.green,'green-band');
fillAbove(f3,ax3,p3LimeTop,C.lime,'lime-band');
fillAbove(f3,ax3,p3YellowTop,C.yellow,'yellow-band');
fillAbove(f3,ax3,p3OrangeTop,C.orange,'orange-band');
blob(f3,ax3,p3RedA,C.red,'red-core');
blob(f3,ax3,p3RedB,C.red,'red-core');
blob(f3,ax3,p3RedC,C.red,'red-core');
blob(f3,ax3,p3MidA,C.dark,'low-pressure-spot');
blob(f3,ax3,p3MidB,C.dark,'low-pressure-spot');
trackLine(f3,ax3,p3LineA,'blade-track-upper');
trackLine(f3,ax3,p3LineB,'blade-track-lower');
drawAxes('p3',ax3,17);
colorbar('p3',2656,3304,41,102,pressureColors,p3BarLabels,147);

// ---------- panel 4 ----------
const ax4=makeAxes(173,1135,2236,1360);
const f4=plotGroup('p4',ax4);
strip(f4,ax4,-2,202,C.vLight,'light-green-base');
blob(f4,ax4,p4GreenA,C.green,'green-region');
blob(f4,ax4,p4GreenB,C.green,'green-region');
blob(f4,ax4,p4AquaA,C.vAqua,'aqua-region');
blob(f4,ax4,p4AquaB,C.vAqua,'aqua-region');
blob(f4,ax4,p4AquaC,C.vAqua,'aqua-region');
blob(f4,ax4,p4AquaD,C.vAqua,'aqua-region');
blob(f4,ax4,p4LensA,C.vAqua,'aqua-lens');
blob(f4,ax4,p4LensB,C.vAqua,'aqua-lens');
blob(f4,ax4,p4MidA,C.vMid,'low-velocity-region');
blob(f4,ax4,p4MidB,C.vMid,'low-velocity-region');
blob(f4,ax4,p4StripA,C.vMid,'low-velocity-streak');
blob(f4,ax4,p4MidC,C.vMid,'low-velocity-region');
blob(f4,ax4,p4MidD,C.vMid,'low-velocity-region');
blob(f4,ax4,p4MidE,C.vMid,'low-velocity-region');
blob(f4,ax4,p4StripB,C.vMid,'low-velocity-streak');
blob(f4,ax4,p4MidF,C.vMid,'low-velocity-region');
blob(f4,ax4,p4MidG,C.vMid,'low-velocity-region');
blob(f4,ax4,p4BlueA,C.blue,'lowest-velocity-core');
blob(f4,ax4,p4BlueB,C.blue,'lowest-velocity-core');
blob(f4,ax4,p4BlueC,C.blue,'lowest-velocity-core');
blob(f4,ax4,p4BlueD,C.blue,'lowest-velocity-core');
blob(f4,ax4,p4BlueE,C.blue,'lowest-velocity-core');
blob(f4,ax4,p4BlueF,C.blue,'lowest-velocity-core');
blob(f4,ax4,p4HighA,C.vHigh,'high-velocity-lobe');
blob(f4,ax4,p4HighB,C.vHigh,'high-velocity-lobe');
blob(f4,ax4,p4HighC,C.vHigh,'high-velocity-lobe');
blob(f4,ax4,p4OrangeA,C.vOrange,'orange-lobe');
blob(f4,ax4,p4OrangeB,C.vOrange,'orange-lobe');
blob(f4,ax4,p4OrangeC,C.vOrange,'orange-lobe');
blob(f4,ax4,p4RedA,C.red,'red-core');
blob(f4,ax4,p4RedB,C.red,'red-core');
blob(f4,ax4,p4RedC,C.red,'red-core');
blob(f4,ax4,p4TipHighA,C.vHigh,'top-tip');
blob(f4,ax4,p4TipOrangeA,C.vOrange,'top-tip');
blob(f4,ax4,p4TipHighB,C.vHigh,'top-tip');
blob(f4,ax4,p4TipOrangeB,C.vOrange,'top-tip');
trackLine(f4,ax4,p4LineA,'blade-track-upper');
trackLine(f4,ax4,p4LineB,'blade-track-lower');
drawAxes('p4',ax4,14);
colorbar('p4',617,1121,1232,1292,velocity1Colors,p4BarLabels,1337);

// ---------- panel 5 ----------
const ax5=makeAxes(1265,2227,2232,1354);
const f5=plotGroup('p5',ax5);
strip(f5,ax5,-2,202,C.green,'green-base');
fillAbove(f5,ax5,p5SpringTop,C.spring,'spring-band');
fillAbove(f5,ax5,p5CyanTop,C.cyan,'cyan-band');
fillAbove(f5,ax5,p5DarkTop,C.dark,'dark-blue-band');
fillAbove(f5,ax5,p5BlueTop,C.blue,'blue-band');
blob(f5,ax5,p5LensA,C.cyan,'cyan-lens');
blob(f5,ax5,p5LensB,C.cyan,'cyan-lens');
blob(f5,ax5,p5DeepA,C.blue,'deep-blue-lens');
blob(f5,ax5,p5DeepB,C.blue,'deep-blue-lens');
blob(f5,ax5,p5DeepC,C.blue,'deep-blue-lens');
blob(f5,ax5,p5DeepD,C.blue,'deep-blue-lens');
fillBelow(f5,ax5,p5LimeTop,C.lime,'lime-band');
blob(f5,ax5,p5LimeSpot,C.lime,'lime-spot');
fillBelow(f5,ax5,p5YellowTop,C.yellow,'yellow-band');
fillBelow(f5,ax5,p5OrangeTop,C.orange,'orange-band');
fillBelow(f5,ax5,p5RedTop,C.red,'red-band');
trackLine(f5,ax5,p5LineA,'blade-track-upper');
trackLine(f5,ax5,p5LineB,'blade-track-lower');
drawAxes('p5',ax5,14);
colorbar('p5',1565,2215,1228,1290,pressureColors,p5BarLabels,1333);

// ---------- panel 6 ----------
const ax6=makeAxes(2358,3320,2231,1354);
const f6=plotGroup('p6',ax6);
strip(f6,ax6,-2,202,C.spring,'spring-base');
band(f6,ax6,p6GreenUpper,p6GreenLower,C.green,'green-region');
blob(f6,ax6,p6TopA,C.green,'green-top-lobe');
blob(f6,ax6,p6TopB,C.green,'green-top-lobe');
blob(f6,ax6,p6CyanA,C.cyan,'cyan-lobe');
blob(f6,ax6,p6CyanB,C.cyan,'cyan-lobe');
blob(f6,ax6,p6CyanC,C.cyan,'cyan-lobe');
blob(f6,ax6,p6DarkA,C.dark,'dark-blue-core');
blob(f6,ax6,p6DarkB,C.dark,'dark-blue-core');
blob(f6,ax6,p6LimeA,C.lime,'lime-spot');
blob(f6,ax6,p6LimeB,C.lime,'lime-spot');
strip(f6,ax6,9.5,11,C.cyan,'cyan-lower-strip');
strip(f6,ax6,-2,9.5,C.blue,'blue-lower-strip');
strip(f6,ax6,198,199,C.cyan,'cyan-top-strip');
strip(f6,ax6,199,202,C.blue,'blue-top-strip');
trackLine(f6,ax6,p6LineA,'blade-track-upper');
trackLine(f6,ax6,p6LineB,'blade-track-lower');
drawAxes('p6',ax6,15);
colorbar('p6',2659,3308,1228,1290,pressureColors,p6BarLabels,1333);
</script>
</body>
</html>
